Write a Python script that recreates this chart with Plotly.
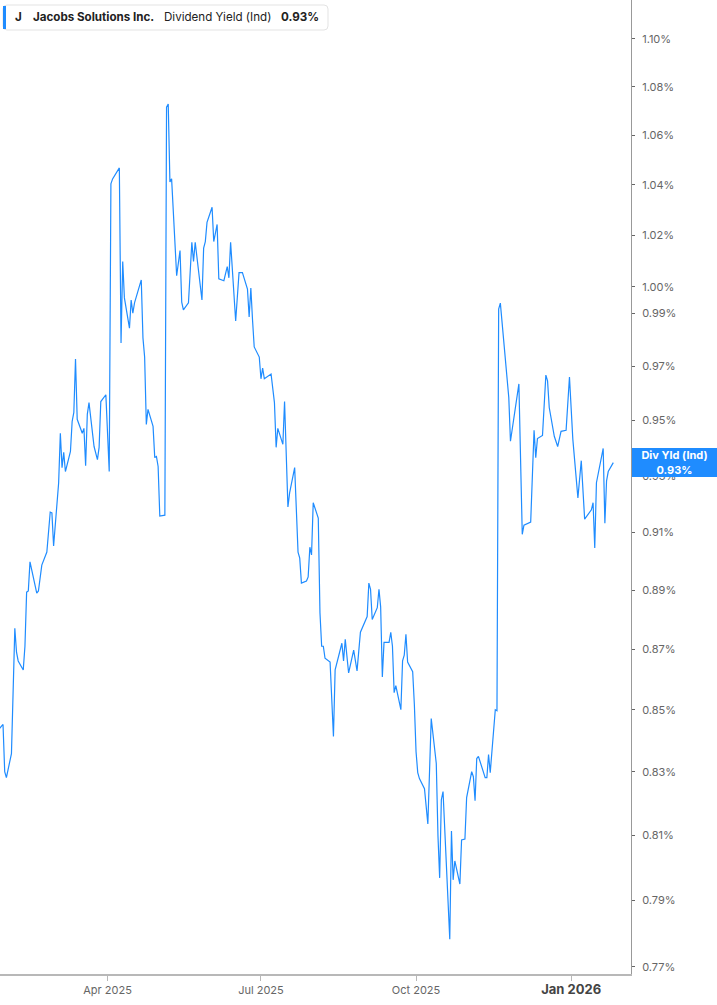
import numpy as np
import plotly.graph_objects as go

# Jacobs Solutions Inc. - indicated dividend yield (%)
dates = [
    "2025-01-27", "2025-01-29", "2025-01-30", "2025-01-31", "2025-02-03",
    "2025-02-05", "2025-02-06", "2025-02-07", "2025-02-10", "2025-02-11",
    "2025-02-12", "2025-02-13", "2025-02-14", "2025-02-18", "2025-02-19",
    "2025-02-21", "2025-02-24", "2025-02-26", "2025-02-27", "2025-02-28",
    "2025-03-03", "2025-03-04", "2025-03-05", "2025-03-06", "2025-03-07",
    "2025-03-10", "2025-03-11", "2025-03-12", "2025-03-13", "2025-03-14",
    "2025-03-17", "2025-03-18", "2025-03-19", "2025-03-20", "2025-03-21",
    "2025-03-24", "2025-03-26", "2025-03-27", "2025-03-28", "2025-03-31",
    "2025-04-02", "2025-04-03", "2025-04-04", "2025-04-08", "2025-04-09",
    "2025-04-10", "2025-04-11", "2025-04-14", "2025-04-15", "2025-04-16",
    "2025-04-17", "2025-04-21", "2025-04-22", "2025-04-23", "2025-04-24",
    "2025-04-25", "2025-04-28", "2025-04-29", "2025-04-30", "2025-05-01",
    "2025-05-02", "2025-05-05", "2025-05-06", "2025-05-07", "2025-05-08",
    "2025-05-09", "2025-05-12", "2025-05-14", "2025-05-15", "2025-05-16",
    "2025-05-19", "2025-05-21", "2025-05-22", "2025-05-23", "2025-05-27",
    "2025-05-28", "2025-05-29", "2025-05-30", "2025-06-02", "2025-06-03",
    "2025-06-05", "2025-06-06", "2025-06-09", "2025-06-11", "2025-06-12",
    "2025-06-13", "2025-06-16", "2025-06-18", "2025-06-20", "2025-06-23",
    "2025-06-24", "2025-06-25", "2025-06-26", "2025-06-27", "2025-06-30",
    "2025-07-01", "2025-07-02", "2025-07-03", "2025-07-07", "2025-07-09",
    "2025-07-10", "2025-07-11", "2025-07-14", "2025-07-15", "2025-07-17",
    "2025-07-18", "2025-07-21", "2025-07-23", "2025-07-24", "2025-07-25",
    "2025-07-28", "2025-07-29", "2025-07-30", "2025-07-31", "2025-08-01",
    "2025-08-04", "2025-08-05", "2025-08-06", "2025-08-07", "2025-08-08",
    "2025-08-11", "2025-08-13", "2025-08-14", "2025-08-18", "2025-08-19",
    "2025-08-20", "2025-08-22", "2025-08-25", "2025-08-27", "2025-08-28",
    "2025-08-29", "2025-09-02", "2025-09-03", "2025-09-04", "2025-09-05",
    "2025-09-08", "2025-09-09", "2025-09-10", "2025-09-11", "2025-09-12",
    "2025-09-15", "2025-09-16", "2025-09-17", "2025-09-18", "2025-09-19",
    "2025-09-22", "2025-09-23", "2025-09-24", "2025-09-25", "2025-09-26",
    "2025-09-29", "2025-09-30", "2025-10-01", "2025-10-02", "2025-10-03",
    "2025-10-06", "2025-10-08", "2025-10-10", "2025-10-13", "2025-10-14",
    "2025-10-15", "2025-10-16", "2025-10-17", "2025-10-21", "2025-10-22",
    "2025-10-23", "2025-10-24", "2025-10-27", "2025-10-28", "2025-10-30",
    "2025-10-31", "2025-11-03", "2025-11-04", "2025-11-05", "2025-11-06",
    "2025-11-07", "2025-11-11", "2025-11-12", "2025-11-13", "2025-11-14",
    "2025-11-17", "2025-11-18", "2025-11-19", "2025-11-20", "2025-11-24",
    "2025-11-25", "2025-11-26", "2025-12-01", "2025-12-03", "2025-12-04",
    "2025-12-08", "2025-12-10", "2025-12-11", "2025-12-12", "2025-12-15",
    "2025-12-17", "2025-12-18", "2025-12-19", "2025-12-22", "2025-12-24",
    "2025-12-26", "2025-12-29", "2025-12-31", "2026-01-02", "2026-01-05",
    "2026-01-07", "2026-01-09", "2026-01-12", "2026-01-13", "2026-01-14",
    "2026-01-15", "2026-01-16", "2026-01-20", "2026-01-21", "2026-01-22",
    "2026-01-23", "2026-01-26",
]

div_yield = [
    0.8439, 0.8452, 0.8300, 0.8281, 0.8358,
    0.8770, 0.8690, 0.8661, 0.8631, 0.8710,
    0.8893, 0.8897, 0.8997, 0.8890, 0.8897,
    0.8986, 0.9031, 0.9171, 0.9168, 0.9052,
    0.9275, 0.9453, 0.9329, 0.9384, 0.9315,
    0.9387, 0.9496, 0.9529, 0.9727, 0.9504,
    0.9453, 0.9471, 0.9336, 0.9522, 0.9565,
    0.9405, 0.9358, 0.9402, 0.9569, 0.9594,
    0.9315, 1.0404, 1.0424, 1.0468, 0.9787,
    1.0098, 0.9958, 0.9843, 0.9950, 0.9900,
    0.9939, 1.0027, 0.9806, 0.9734, 0.9485,
    0.9540, 0.9478, 0.9365, 0.9369, 0.9333,
    0.9157, 0.9160, 1.0715, 1.0728, 1.0412,
    1.0424, 1.0043, 1.0141, 0.9942, 0.9912,
    0.9939, 1.0173, 1.0098, 1.0173, 0.9950,
    1.0150, 1.0176, 1.0251, 1.0311, 1.0176,
    1.0243, 1.0031, 1.0024, 1.0078, 1.0035,
    1.0173, 0.9870, 1.0055, 1.0055, 0.9992,
    0.9885, 0.9996, 0.9874, 0.9772, 0.9734,
    0.9653, 0.9693, 0.9653, 0.9671, 0.9565,
    0.9402, 0.9471, 0.9413, 0.9569, 0.9189,
    0.9239, 0.9329, 0.9031, 0.9010, 0.8924,
    0.8931, 0.8945, 0.9048, 0.9021, 0.9204,
    0.9150, 0.8823, 0.8710, 0.8710, 0.8670,
    0.8657, 0.8413, 0.8631, 0.8720, 0.8661,
    0.8733, 0.8621, 0.8697, 0.8628, 0.8710,
    0.8757, 0.8810, 0.8924, 0.8903, 0.8800,
    0.8840, 0.8903, 0.8843, 0.8608, 0.8723,
    0.8723, 0.8757, 0.8710, 0.8556, 0.8579,
    0.8500, 0.8661, 0.8680, 0.8750, 0.8657,
    0.8625, 0.8516, 0.8364, 0.8297, 0.8278,
    0.8246, 0.8135, 0.8471, 0.8326, 0.8097,
    0.7968, 0.8211, 0.8237, 0.7782, 0.8113,
    0.7962, 0.8020, 0.7949, 0.8085, 0.8088,
    0.8218, 0.8300, 0.8284, 0.8208, 0.8342,
    0.8349, 0.8281, 0.8281, 0.8355, 0.8297,
    0.8500, 0.8497, 0.9915, 0.9938, 0.9649,
    0.9584, 0.9424, 0.9634, 0.9093, 0.9125,
    0.9136, 0.9464, 0.9365, 0.9434, 0.9445,
    0.9667, 0.9645, 0.9547, 0.9442, 0.9405,
    0.9460, 0.9464, 0.9660, 0.9431, 0.9221,
    0.9354, 0.9146, 0.9171, 0.9179, 0.9204,
    0.9045, 0.9275, 0.9398, 0.9132, 0.9282,
    0.9315, 0.9347,
]

y_ticks = [0.77, 0.79, 0.81, 0.83, 0.85, 0.87, 0.89, 0.91, 0.93, 0.95,
           0.97, 0.99, 1.00, 1.02, 1.04, 1.06, 1.08, 1.10]
x_ticks = ["2025-04-01", "2025-07-01", "2025-10-01", "2026-01-01"]
x_labels = ["Apr 2025", "Jul 2025", "Oct 2025",
            '<span style="font-size:13px;color:#444"><b>Jan 2026</b></span>']

BLUE = "#1f8cff"
W, H = 717, 1005
ML, MR, MT, MB = 0, 86, 0, 31
PW, PH = W - ML - MR, H - MT - MB


def px(x):
    return x / PW


def py(y):
    return 1 - y / PH


fig = go.Figure()
fig.add_trace(go.Scatter(
    x=dates, y=div_yield, mode="lines",
    line=dict(color=BLUE, width=1.2),
    hoverinfo="x+y", showlegend=False,
))

last = div_yield[-1]

fig.update_layout(
    width=W, height=H,
    margin=dict(l=ML, r=MR, t=MT, b=MB),
    paper_bgcolor="white", plot_bgcolor="white",
    font=dict(family="Inter, Roboto, sans-serif", size=11, color="#666"),
    xaxis=dict(
        type="date",
        range=["2025-01-27 05:00", "2026-02-05 12:00"],
        tickvals=x_ticks, ticktext=x_labels,
        showgrid=False, zeroline=False,
        showline=True, linecolor="#b8b8b8", linewidth=1.5,
        ticks="outside", ticklen=5, tickcolor="#b8b8b8", tickwidth=1,
        tickfont=dict(size=11, color="#666"),
    ),
    yaxis=dict(
        type="log", side="right",
        range=[np.log10(0.7679), np.log10(1.1166)],
        tickvals=y_ticks, ticktext=[f"{v:.2f}%" for v in y_ticks],
        showgrid=False, zeroline=False,
        showline=True, linecolor="#999", linewidth=1,
        ticks="outside", ticklen=3, tickcolor="#666", tickwidth=1,
        ticklabelstandoff=5,
        tickfont=dict(size=11, color="#666"),
    ),
)

# header box top-left
r = 4
x0, x1, y0, y1 = px(3), px(328), py(5), py(30)
rx, ry = px(r), r / PH
path = (f"M {x0 + rx},{y0} L {x1 - rx},{y0} Q {x1},{y0} {x1},{y0 - ry} "
        f"L {x1},{y1 + ry} Q {x1},{y1} {x1 - rx},{y1} L {x0 + rx},{y1} "
        f"Q {x0},{y1} {x0},{y1 + ry} L {x0},{y0 - ry} Q {x0},{y0} {x0 + rx},{y0} Z")
fig.add_shape(type="path", path=path, xref="paper", yref="paper",
              fillcolor="white", line=dict(color="#e3e3e3", width=1), layer="above")
fig.add_shape(type="rect", xref="paper", yref="paper",
              x0=px(3), x1=px(6), y0=py(6), y1=py(29),
              fillcolor=BLUE, line=dict(width=0), layer="above")

header = [
    (13, "<b>J</b>"),
    (31, "<b>Jacobs Solutions Inc.</b>"),
    (162, "Dividend Yield (Ind)"),
    (279, f"<b>{last:.2f}%</b>"),
]
for hx, txt in header:
    fig.add_annotation(x=px(hx), y=py(17.5), xref="paper", yref="paper",
                       text=txt, showarrow=False, xanchor="left", yanchor="middle",
                       font=dict(size=11.6, color="#222", family="Inter, sans-serif"))

# last value tag on the right axis
fig.add_annotation(
    x=px(632), y=np.log10(last), xref="paper", yref="y",
    text=f"<b>Div Yld (Ind)</b><br><b>{last:.2f}%</b>",
    showarrow=False, xanchor="left", yanchor="middle",
    width=85, height=29, bgcolor=BLUE, borderpad=0, borderwidth=0,
    align="center", font=dict(size=11, color="white", family="Inter, sans-serif"),
)

fig.write_html("out.html", config={"displayModeBar": False},
               post_script="document.body.style.margin='0';")
